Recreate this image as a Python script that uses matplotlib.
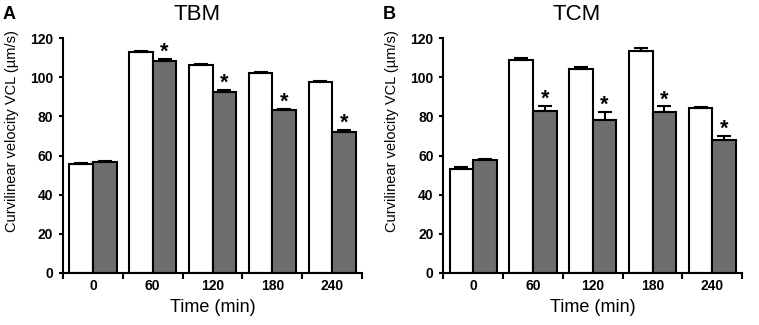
import numpy as np
import matplotlib.pyplot as plt

plt.rcParams['font.family'] = ['Liberation Sans', 'DejaVu Sans']

times = ['0', '60', '120', '180', '240']

# TBM panel
tbm_white = [55.7, 112.8, 106.1, 102.2, 97.6]
tbm_white_err = [0.4, 0.8, 0.7, 0.5, 0.5]
tbm_grey = [56.6, 108.2, 92.6, 83.0, 72.1]
tbm_grey_err = [0.8, 1.0, 1.0, 0.8, 0.9]
tbm_sig = [False, True, True, True, True]

# TCM panel
tcm_white = [53.3, 108.9, 104.2, 113.5, 84.2]
tcm_white_err = [0.7, 1.0, 1.2, 1.6, 0.6]
tcm_grey = [57.9, 82.9, 78.0, 82.4, 67.7]
tcm_grey_err = [0.4, 2.4, 4.2, 2.7, 2.3]
tcm_sig = [False, True, True, True, True]

fig = plt.figure(figsize=(7.59, 3.25), dpi=100)

panels = [
    ('A', 'TBM', tbm_white, tbm_white_err, tbm_grey, tbm_grey_err, tbm_sig, 0.083),
    ('B', 'TCM', tcm_white, tcm_white_err, tcm_grey, tcm_grey_err, tcm_sig, 0.584),
]

for letter, title, w, we, g, ge, sig, left in panels:
    ax = fig.add_axes([left, 0.16, 0.394, 0.723])
    x = np.arange(len(times))
    bw = 0.395
    ekw = dict(ecolor='black', elinewidth=1.5, capsize=5, capthick=1.5)
    ax.bar(x - bw / 2, w, bw, color='white', edgecolor='black', linewidth=1.5,
           yerr=[np.zeros(len(we)), we], error_kw=ekw)
    ax.bar(x + bw / 2, g, bw, color='#6e6e6e', edgecolor='black', linewidth=1.5,
           yerr=[np.zeros(len(ge)), ge], error_kw=ekw)
    for i, s in enumerate(sig):
        if s:
            ax.text(x[i] + bw / 2, g[i] + ge[i] + 0.5, '*', ha='center', va='baseline',
                    fontsize=15.5, fontweight='bold')

    ax.set_xlim(-0.5, len(times) - 0.5)
    ax.set_ylim(0, 120)
    ax.set_yticks(np.arange(0, 121, 20))
    ax.set_xticks(x)
    ax.set_xticklabels(times)
    ax.set_xticks(np.arange(-0.5, len(times)), minor=True)
    ax.tick_params(axis='x', which='major', length=0, pad=4)
    ax.tick_params(axis='x', which='minor', length=4, width=1.5, direction='out')
    ax.tick_params(axis='y', length=3, width=1.5, direction='out', pad=4)
    for lab in ax.get_xticklabels() + ax.get_yticklabels():
        lab.set_fontweight('bold')
        lab.set_fontsize(10)
    for sp in ['top', 'right']:
        ax.spines[sp].set_visible(False)
    for sp in ['left', 'bottom']:
        ax.spines[sp].set_linewidth(1.5)

    ax.set_xlabel('Time (min)', fontsize=13, labelpad=5)
    fig.text(left - 0.067, 1 - 131 / 325, 'Curvilinear velocity VCL (\u00b5m/s)',
             rotation=90, ha='center', va='center', fontsize=10.5)

    fig.text(left - 0.080, 0.955, letter, fontsize=13, fontweight='bold', va='center')
    fig.text(left + 0.176, 0.955, title, fontsize=16, ha='center', va='center')

fig.savefig('out.png', dpi=100)
